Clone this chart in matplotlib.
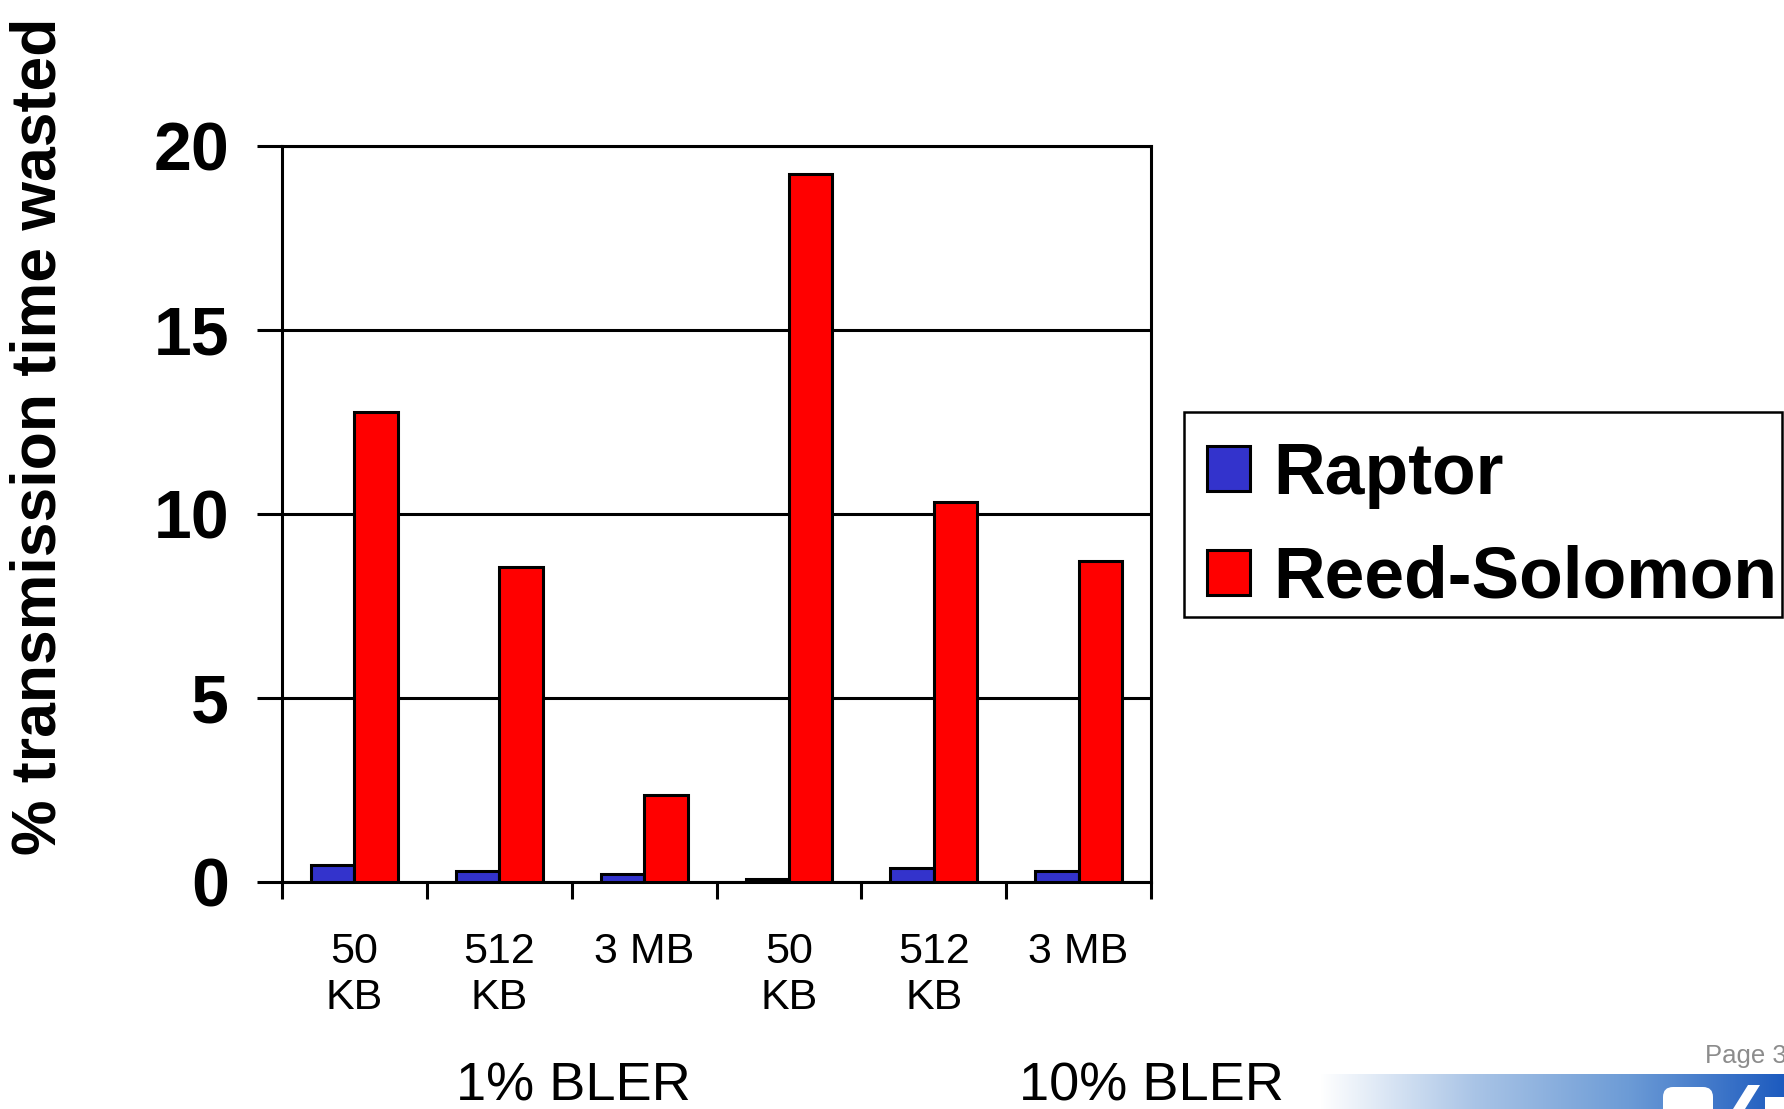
import matplotlib.pyplot as plt
import matplotlib.patches as mpatches
from matplotlib.colors import LinearSegmentedColormap
import numpy as np

# Wasted transmission time per file size and block error rate
sizes = ["50\nKB", "512\nKB", "3 MB", "50\nKB", "512\nKB", "3 MB"]
bler_groups = ["1% BLER", "10% BLER"]
raptor = [0.46, 0.31, 0.22, 0.07, 0.39, 0.29]
reed_solomon = [12.77, 8.57, 2.36, 19.23, 10.32, 8.73]
y_ticks = [0, 5, 10, 15, 20]

BLUE = "#3333CC"
RED = "#FF0000"
FONT = "Liberation Sans"

plt.rcParams["font.family"] = FONT

fig = plt.figure(figsize=(17.84, 11.09), dpi=100)
ax = fig.add_axes([0.1581, 0.2047, 0.4871, 0.6637])

x = np.arange(len(sizes))
w = 0.3
bar_kw = dict(edgecolor="black", linewidth=2.2, zorder=3)
ax.bar(x - w / 2, raptor, w, color=BLUE, label="Raptor", **bar_kw)
ax.bar(x + w / 2, reed_solomon, w, color=RED, label="Reed-Solomon", **bar_kw)

ax.set_xlim(-0.5, len(sizes) - 0.5)
ax.set_ylim(0, 20)
ax.set_yticks(y_ticks)
ax.set_yticklabels([str(t) for t in y_ticks], fontsize=49, fontweight="bold")
ax.yaxis.grid(True, color="black", linewidth=2.2)
ax.set_axisbelow(True)
for s in ax.spines.values():
    s.set_linewidth(2.2)
    s.set_color("black")
ax.tick_params(axis="y", length=18, width=2.2, pad=20, direction="out")

# ticks between categories, labels centred under each category
ax.set_xticks(np.arange(-0.5, len(sizes)))
ax.set_xticklabels([])
ax.set_xticks(x, minor=True)
ax.set_xticklabels(sizes, minor=True, fontsize=31, linespacing=1.2)
ax.tick_params(axis="x", which="major", length=12, width=2.2, direction="out")
ax.tick_params(axis="x", which="minor", length=0, pad=36)

ax.set_ylabel("% transmission time wasted", fontsize=45, fontweight="bold")
ax.yaxis.set_label_coords(-0.246, 0.606)

# group captions under the size labels
ax.text(1.51, -0.2785, bler_groups[0], transform=ax.get_xaxis_transform(),
        fontsize=39, ha="center", va="center")
ax.text(5.5, -0.2785, bler_groups[1], transform=ax.get_xaxis_transform(),
        fontsize=39, ha="center", va="center")

# legend entries without their own frame; the box is drawn separately
leg = fig.legend(loc="upper left", bbox_to_anchor=(1207 / 1784, 1 - 441 / 1109),
                 prop={"family": FONT, "weight": "bold", "size": 51.5},
                 frameon=False, handlelength=0.6, handleheight=0.6,
                 handletextpad=0.33, borderpad=0, labelspacing=0.5,
                 borderaxespad=0)
fig.patches.append(mpatches.Rectangle((1184 / 1784, 1 - 617 / 1109), 598 / 1784, 205 / 1109,
                                      transform=fig.transFigure, fill=False,
                                      edgecolor="black", linewidth=1.8))

# footer: page number and gradient band
fig.text(1705 / 1784, 1 - 1063 / 1109, "Page 37", fontsize=18.5, color="#8c8c8c",
         ha="left", va="baseline")
band = fig.add_axes([1320 / 1784, 0, 464 / 1784, 35 / 1109])
grad = np.linspace(0, 1, 256).reshape(1, -1)
cmap = LinearSegmentedColormap.from_list("band", ["#ffffff", "#a9c4e6", "#6c9bd6", "#1d5bbf"])
band.imshow(grad, aspect="auto", cmap=cmap, extent=[0, 464, 0, 35])
band.set_xlim(0, 464)
band.set_ylim(0, 35)
band.axis("off")
# white logo letters on the band
band.add_patch(mpatches.FancyBboxPatch((343, -10), 50, 32, boxstyle="round,pad=0,rounding_size=10",
                                       facecolor="white", edgecolor="none"))
band.add_patch(mpatches.Polygon([(413, 0), (425, 0), (440, 24), (428, 24)],
                                facecolor="white", edgecolor="none"))
band.add_patch(mpatches.Rectangle((445, 0), 19, 12, facecolor="white", edgecolor="none"))

fig.savefig("out.png", dpi=100)
